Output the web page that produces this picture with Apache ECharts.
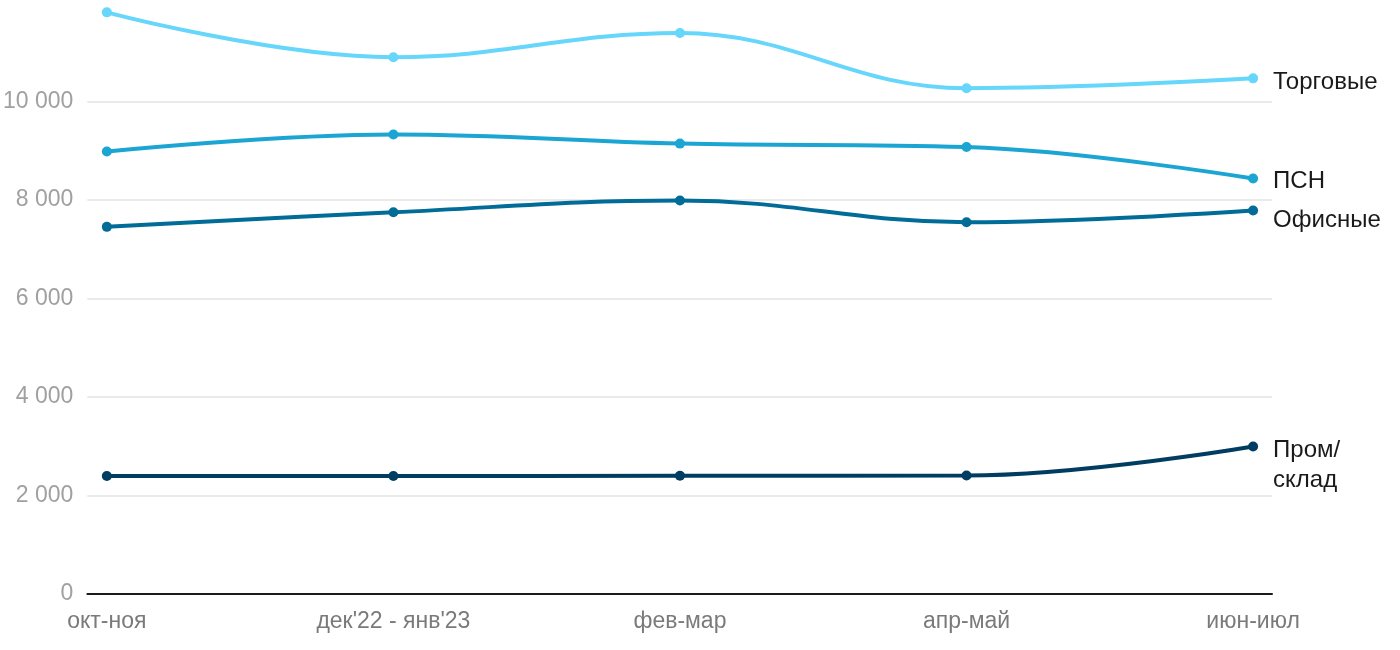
<!DOCTYPE html>
<html><head><meta charset="utf-8">
<script src="https://cdn.jsdelivr.net/npm/echarts@6/dist/echarts.min.js"></script>
<style>html,body{margin:0;padding:0;background:#fff}#c{width:1400px;height:650px}</style>
</head><body><div id="c"></div>
<script>
const categories = ["окт-ноя", "дек'22 - янв'23", "фев-мар", "апр-май", "июн-июл"];
const torgovye = [11810, 10900, 11390, 10270, 10470];
const psn = [8985, 9330, 9145, 9075, 8435];
const ofisnye = [7455, 7750, 7990, 7550, 7785];
const prom = [2395, 2395, 2400, 2405, 2995];
const yTicks = [0, 2000, 4000, 6000, 8000, 10000];

const names = ["Торговые", "ПСН", "Офисные", "Пром/\nсклад"];
const colors = ["#66d6fb", "#1aa5d3", "#006c97", "#003d61"];
const labelOffsets = [[0, 4], [0, 3], [0, 10], [0, 19]];
const allData = [torgovye, psn, ofisnye, prom];

const chart = echarts.init(document.getElementById('c'));
chart.setOption({
  animation: false,
  grid: { left: 86, right: 128, top: 3, bottom: 56 },
  xAxis: {
    type: 'value', min: -0.068, max: 4.066,
    axisLine: { show: true, onZero: false, lineStyle: { color: '#1a1a1a', width: 2 } },
    axisTick: { show: false },
    splitLine: { show: false },
    axisLabel: {
      customValues: categories.map((c, i) => i),
      formatter: v => categories[Math.round(v)],
      color: '#7a7a7a', fontFamily: 'Liberation Sans', fontSize: 23, margin: 16
    }
  },
  yAxis: {
    type: 'value', min: 0, max: 12000, interval: 2000,
    axisLine: { show: false }, axisTick: { show: false },
    splitLine: { show: true, showMaxLine: false, lineStyle: { color: '#e3e3e3', width: 1.5 } },
    axisLabel: {
      showMaxLabel: false,
      formatter: v => yTicks.includes(v) ? String(v).replace(/\B(?=(\d{3})+(?!\d))/g, ' ') : '',
      color: '#a0a0a0', fontFamily: 'Liberation Sans', fontSize: 23, margin: 14
    }
  },
  series: allData.map((d, k) => ({
    type: 'line', name: names[k], smooth: 0.4,
    data: d.map((v, i) => [i, v]),
    symbol: 'circle', symbolSize: 10,
    lineStyle: { color: colors[k], width: 4 },
    itemStyle: { color: colors[k] },
    z: 10 - k,
    endLabel: {
      show: true, formatter: names[k], distance: 20, offset: labelOffsets[k],
      color: '#1a1a1a', fontFamily: 'Liberation Sans', fontSize: 24, lineHeight: 30
    }
  }))
});
</script></body></html>
